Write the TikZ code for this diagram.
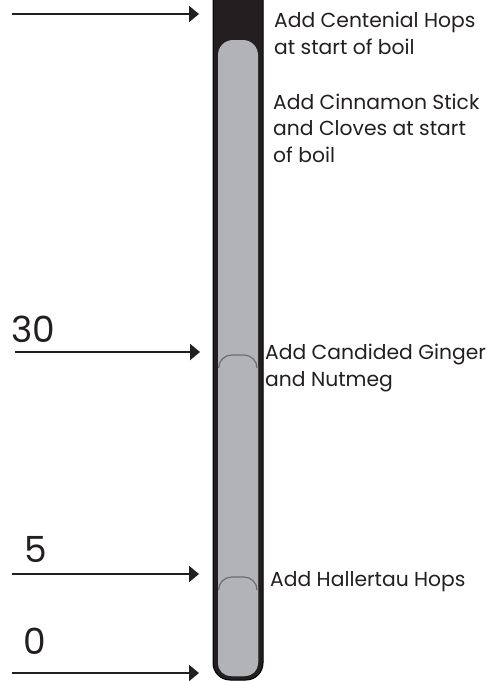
\documentclass[tikz,border=0pt]{standalone}
\usepackage{fontspec}
\setmainfont{Poppins}
\usetikzlibrary{arrows.meta}
\definecolor{ink}{HTML}{231F20}
\definecolor{tubegray}{HTML}{B1B3B6}
\definecolor{edgegray}{HTML}{6D6E71}
\tikzset{
  timearrow/.style={draw=ink, line width=2pt, -{Triangle[length=10pt,width=16pt]}},
  numlabel/.style={text=ink, font=\fontsize{36}{40}\selectfont, inner sep=0pt, anchor=base},
  steplabel/.style={text=ink, font=\fontsize{20.3}{26.5}\selectfont, inner sep=0pt, anchor=base west, align=left},
  segment/.style={fill=tubegray, draw=none},
}
\begin{document}
\begin{tikzpicture}[x=1pt,y=-1pt]
\useasboundingbox (0,0) rectangle (487,681);
\clip (0,0) rectangle (487,681);
% tube
\path[fill=ink, draw=black, line width=1pt, rounded corners=17pt] (213,-30) rectangle (263,680);
\path[segment, rounded corners=15pt] (218,40) rectangle (258,676);
\path[segment, rounded corners=13pt] (218,353) rectangle (258,676);
\draw[edgegray, line width=1.2pt] (218.6,368) arc[start angle=180, end angle=90, radius=13pt] -- (244,355) arc[start angle=90, end angle=0, radius=13pt];
\path[segment, rounded corners=13pt] (218,575) rectangle (258,676);
\draw[edgegray, line width=1.2pt] (218.6,590) arc[start angle=180, end angle=90, radius=13pt] -- (244,577) arc[start angle=90, end angle=0, radius=13pt];
% arrows
\coordinate (a60s) at (12,14);  \coordinate (a60e) at (199,14);
\coordinate (a30s) at (15,352); \coordinate (a30e) at (200,352);
\coordinate (a5s)  at (12,574); \coordinate (a5e)  at (199,574);
\coordinate (a0s)  at (12,673); \coordinate (a0e)  at (199,673);
\draw[timearrow] (a60s) -- (a60e);
\draw[timearrow] (a30s) -- (a30e);
\draw[timearrow] (a5s) -- (a5e);
\draw[timearrow] (a0s) -- (a0e);
% numbers
\node[numlabel] (n60) at (33,-0.5) {60};
\node[numlabel] (n30) at (33,342) {30};
\node[numlabel] (n5)  at (36,562) {5};
\node[numlabel] (n0)  at (35,654) {0};
% step labels (base = baseline of last line)
\node[steplabel] (l60) at (274,54) {Add Centenial Hops\\at start of boil};
\node[steplabel] (l55) at (273,162) {Add Cinnamon Stick\\and Cloves at start\\of boil};
\node[steplabel] (l30) at (265,386) {Add Candided Ginger\\and Nutmeg};
\node[steplabel] (l5)  at (270,586) {Add Hallertau Hops};
\end{tikzpicture}
\end{document}
